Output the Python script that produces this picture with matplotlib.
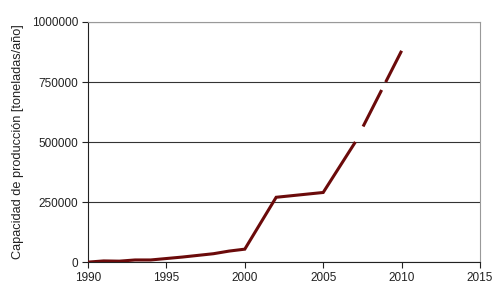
import numpy as np
import matplotlib
matplotlib.use('Agg')
import matplotlib.pyplot as plt

plt.rcParams['font.family'] = ['Liberation Sans', 'DejaVu Sans']

# measured capacity
years = [1990, 1991, 1992, 1993, 1994, 1995, 1996, 1997, 1998, 1999, 2000, 2002, 2005, 2007]
capacity = [0, 5000, 4000, 9000, 9000, 15000, 21000, 28000, 35000, 46000, 54000, 270000, 290000, 495000]

# projection (dashed)
proj_years = [2007, 2010]
proj_capacity = [495000, 880000]

line_color = '#6b0a0a'

fig = plt.figure(figsize=(5.0, 2.89), dpi=100)
ax = fig.add_axes([0.176, 0.093, 0.784, 0.831])

ax.plot(years, capacity, '-', color=line_color, lw=2.2, solid_joinstyle='miter', zorder=3)
# drawn from 2010 backwards so the dash pattern ends cleanly at the last point
ax.plot(proj_years[::-1], proj_capacity[::-1], color=line_color, lw=2.2,
        linestyle=(0, (11.5, 2.9, 13.4, 6.2)), dash_capstyle='butt', zorder=3)

ax.set_xlim(1990, 2015)
ax.set_ylim(0, 1000000)
ax.set_xticks([1990, 1995, 2000, 2005, 2010, 2015])
ax.set_yticks([0, 250000, 500000, 750000, 1000000])
ax.set_yticklabels(['0', '250000', '500000', '750000', '1000000'])
ax.yaxis.grid(True, color='#333333', lw=0.8)
ax.set_axisbelow(True)

for side in ['top', 'right']:
    ax.spines[side].set_color('#999999')
    ax.spines[side].set_linewidth(0.8)
for side in ['left', 'bottom']:
    ax.spines[side].set_color('#222222')
    ax.spines[side].set_linewidth(0.8)

ax.tick_params(direction='out', length=4, width=0.8, color='#222222', labelsize=8.5, pad=3,
               labelcolor='#222222')
ax.set_ylabel('Capacidad de producción [toneladas/año]', fontsize=9.2, labelpad=6, color='#222222')

plt.savefig('out.png', dpi=100)
